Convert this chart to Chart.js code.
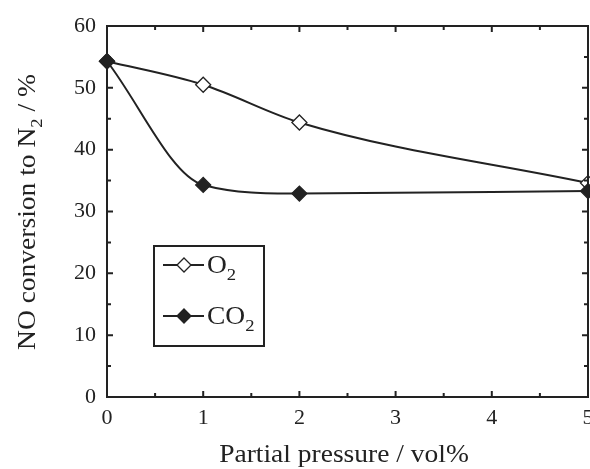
<!DOCTYPE html>
<html>
<head>
<meta charset="utf-8">
<script src="https://cdn.jsdelivr.net/npm/chart.js@4/dist/chart.umd.min.js"></script>
<style>
  html, body { margin: 0; padding: 0; background: #fff; }
  #wrap { width: 590px; height: 469px; position: relative; }
</style>
</head>
<body>
<div id="wrap"><canvas id="chart"></canvas></div>
<script>
// Data
const pressures = [0, 1, 2, 5];
const o2Values = [54.3, 50.5, 44.4, 34.6];
const co2Values = [54.3, 34.3, 32.9, 33.3];
const xTicks = [0, 1, 2, 3, 4, 5];
const yTicks = [0, 10, 20, 30, 40, 50, 60];

const SERIF = "'Liberation Serif', 'DejaVu Serif', serif";
const INK = '#222222';

// text with a subscript part, e.g. ['N', '2']; sx widens the glyphs a bit
function drawSubText(ctx, parts, x, y, size, align, sx) {
    const big = size + 'px ' + SERIF;
    const small = Math.round(size * 0.68) + 'px ' + SERIF;
    let total = 0;
    parts.forEach(p => {
        ctx.font = p.sub ? small : big;
        total += ctx.measureText(p.t).width;
    });
    ctx.save();
    ctx.translate(x, y);
    ctx.scale(sx || 1, 1);
    let cx = align === 'center' ? -total / 2 : 0;
    ctx.textAlign = 'left';
    ctx.textBaseline = 'alphabetic';
    parts.forEach(p => {
        ctx.font = p.sub ? small : big;
        ctx.fillText(p.t, cx, p.sub ? size * 0.26 : 0);
        cx += ctx.measureText(p.t).width;
    });
    ctx.restore();
}

const framePlugin = {
    id: 'frame',
    afterDraw(chart) {
        const ctx = chart.ctx;
        const a = chart.chartArea;
        const xs = chart.scales.x, ys = chart.scales.y;
        ctx.save();
        ctx.strokeStyle = INK;
        ctx.lineWidth = 2;
        ctx.strokeRect(a.left, a.top, a.right - a.left, a.bottom - a.top);

        // inward ticks on all four sides
        ctx.beginPath();
        for (let i = 0; i < xTicks.length; i++) {
            const vals = [[xTicks[i], 6]];
            if (i < xTicks.length - 1) vals.push([(xTicks[i] + xTicks[i + 1]) / 2, 4]);
            vals.forEach(([v, len]) => {
                const px = xs.getPixelForValue(v);
                ctx.moveTo(px, a.bottom); ctx.lineTo(px, a.bottom - len);
                ctx.moveTo(px, a.top); ctx.lineTo(px, a.top + len);
            });
        }
        for (let i = 0; i < yTicks.length; i++) {
            const vals = [[yTicks[i], 6]];
            if (i < yTicks.length - 1) vals.push([(yTicks[i] + yTicks[i + 1]) / 2, 4]);
            vals.forEach(([v, len]) => {
                const py = ys.getPixelForValue(v);
                ctx.moveTo(a.left, py); ctx.lineTo(a.left + len, py);
                ctx.moveTo(a.right, py); ctx.lineTo(a.right - len, py);
            });
        }
        ctx.stroke();

        // axis titles
        ctx.fillStyle = INK;
        drawSubText(ctx, [{ t: 'Partial pressure / vol%' }], 344, 462, 25, 'center', 1.1);
        ctx.save();
        ctx.translate(35, 212);
        ctx.rotate(-Math.PI / 2);
        drawSubText(ctx, [{ t: 'NO conversion to N' }, { t: '2', sub: true }, { t: ' / %' }], 0, 0, 25, 'center', 1.1);
        ctx.restore();

        // legend box
        const bx = 154, by = 246, bw = 110, bh = 100;
        ctx.lineWidth = 2;
        ctx.strokeRect(bx, by, bw, bh);
        const entries = [
            { parts: [{ t: 'O' }, { t: '2', sub: true }], fill: '#ffffff', y: 265 },
            { parts: [{ t: 'CO' }, { t: '2', sub: true }], fill: INK, y: 316 }
        ];
        entries.forEach(e => {
            ctx.lineWidth = 2;
            ctx.beginPath();
            ctx.moveTo(163, e.y); ctx.lineTo(204, e.y);
            ctx.stroke();
            ctx.beginPath();
            ctx.moveTo(184, e.y - 7); ctx.lineTo(191, e.y); ctx.lineTo(184, e.y + 7); ctx.lineTo(177, e.y);
            ctx.closePath();
            ctx.fillStyle = e.fill;
            ctx.fill();
            ctx.lineWidth = 1.3;
            ctx.stroke();
            ctx.fillStyle = INK;
            drawSubText(ctx, e.parts, 207, e.y + 8, 25, 'left', 1.1);
        });
        ctx.restore();
    }
};

const toPoints = vals => pressures.map((p, i) => ({ x: p, y: vals[i] }));

const seriesStyle = fill => ({
    borderColor: INK,
    borderWidth: 2,
    backgroundColor: fill,
    pointStyle: 'rectRot',
    pointRadius: 7.5,
    pointBorderWidth: 1.3,
    pointBorderColor: INK,
    pointBackgroundColor: fill,
    cubicInterpolationMode: 'monotone',
    clip: false
});

new Chart(document.getElementById('chart'), {
    type: 'line',
    data: {
        datasets: [
            Object.assign({ label: 'CO2', data: toPoints(co2Values), order: 0 }, seriesStyle(INK)),
            Object.assign({ label: 'O2', data: toPoints(o2Values), order: 1 }, seriesStyle('#ffffff'))
        ]
    },
    options: {
        responsive: true,
        maintainAspectRatio: false,
        animation: false,
        layout: { autoPadding: false, padding: { top: 26, right: 2, left: 0, bottom: 0 } },
        plugins: {
            legend: { display: false },
            tooltip: { enabled: false }
        },
        scales: {
            x: {
                type: 'linear',
                min: 0,
                max: 5,
                afterBuildTicks: s => { s.ticks = xTicks.map(v => ({ value: v })); },
                afterFit: s => { s.height = 72; s.paddingLeft = 0; s.paddingRight = 0; },
                grid: { display: false, drawTicks: false },
                border: { display: false },
                ticks: {
                    padding: 8,
                    maxRotation: 0,
                    color: INK,
                    font: { family: SERIF, size: 22 }
                }
            },
            y: {
                min: 0,
                max: 60,
                afterBuildTicks: s => { s.ticks = yTicks.map(v => ({ value: v })); },
                afterFit: s => { s.width = 107; s.paddingTop = 0; s.paddingBottom = 0; },
                grid: { display: false, drawTicks: false },
                border: { display: false },
                ticks: {
                    padding: 11,
                    color: INK,
                    font: { family: SERIF, size: 22 }
                }
            }
        }
    },
    plugins: [framePlugin]
});
</script>
</body>
</html>
